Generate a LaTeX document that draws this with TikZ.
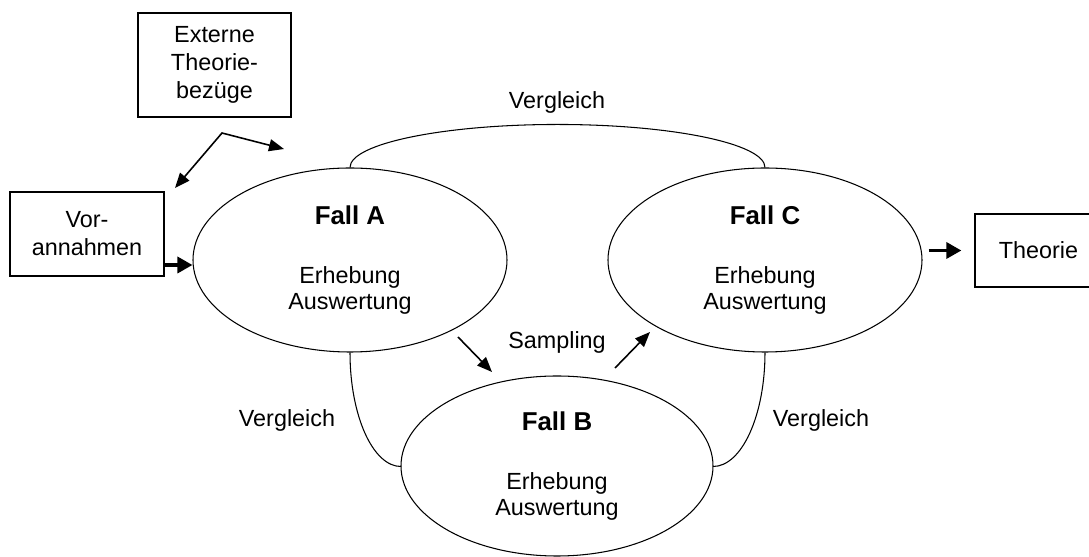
\documentclass[tikz,border=0pt]{standalone}
\usepackage{fontspec}
\setmainfont{Liberation Sans}
\usetikzlibrary{arrows.meta, shapes.geometric}

\begin{document}
\begin{tikzpicture}[
    fall/.style = {draw, ellipse, line width=0.6pt, inner sep=0pt,
                   minimum width=6.28cm, minimum height=3.68cm, align=center,
                   font=\fontsize{13.3}{14.8}\selectfont},
    kasten/.style = {draw, line width=0.7pt, inner sep=0pt, align=center,
                     font=\fontsize{13.3}{16}\selectfont},
    beschr/.style = {font=\fontsize{13.3}{16}\selectfont},
    bogen/.style = {line width=0.6pt},
    duenn/.style = {line width=0.9pt, >={Triangle[length=0.3cm, width=0.24cm]}},
    dick/.style = {line width=1.9pt, ->, >={Triangle[length=0.3cm, width=0.32cm]}}
  ]
    \useasboundingbox (0,0) rectangle (21.78,11.14);

    % Faelle
    \node [fall] (fallA) at (7.00,5.94)
        {{\fontsize{14.7}{14.8}\selectfont\bfseries Fall A}\\[19pt]Erhebung\\Auswertung};
    \node [fall, minimum width=6.24cm, minimum height=3.6cm] (fallB) at (11.14,1.82)
        {{\fontsize{14.7}{14.8}\selectfont\bfseries Fall B}\\[19pt]Erhebung\\Auswertung};
    \node [fall] (fallC) at (15.30,5.94)
        {{\fontsize{14.7}{14.8}\selectfont\bfseries Fall C}\\[19pt]Erhebung\\Auswertung};

    % Kaesten
    \node [kasten, minimum width=3.06cm, minimum height=2.08cm] (extern) at (4.29,9.84)
        {Externe\\Theorie-\\bezüge};
    \node [kasten, minimum width=3.08cm, minimum height=1.68cm] (vor) at (1.74,6.46)
        {Vor-\\annahmen};
    \node [kasten, minimum width=2.54cm, minimum height=1.46cm] (theorie) at (20.77,6.13)
        {Theorie};

    % Vergleiche
    \draw [bogen] (fallA.north) arc [start angle=180, end angle=0, x radius=4.15cm, y radius=0.86cm];
    \draw [bogen] (fallA.south) arc [start angle=180, end angle=270, x radius=1.02cm, y radius=2.28cm];
    \draw [bogen] (fallC.south) arc [start angle=0, end angle=-90, x radius=1.04cm, y radius=2.28cm];
    \node [beschr] (vglOben) at (11.14,9.10) {Vergleich};
    \node [beschr] (vglLinks) at (5.74,2.74) {Vergleich};
    \node [beschr] (vglRechts) at (16.42,2.74) {Vergleich};

    % Sampling
    \coordinate (smpA) at (9.16,4.40);
    \coordinate (smpB) at (9.84,3.70);
    \coordinate (smpC) at (12.30,3.78);
    \coordinate (smpD) at (13.00,4.50);
    \draw [duenn, ->] (smpA) -- (smpB);
    \draw [duenn, ->] (smpC) -- (smpD);
    \node [beschr] (sampling) at (11.14,4.30) {Sampling};

    % Theoriebezuege
    \coordinate (knick) at (4.44,8.48);
    \coordinate (zuVor) at (3.50,7.38);
    \coordinate (zuFall) at (5.68,8.16);
    \draw [duenn, <->] (zuVor) -- (knick) -- (zuFall);

    % Ein- und Ausgang
    \draw [dick] ([yshift=-0.1cm]fallA.west -| vor.east) -- ([yshift=-0.1cm]fallA.west);
    \draw [dick, shorten <=0.12cm, shorten >=0.26cm] (fallC.east |- theorie.west) -- (theorie.west);
\end{tikzpicture}
\end{document}
